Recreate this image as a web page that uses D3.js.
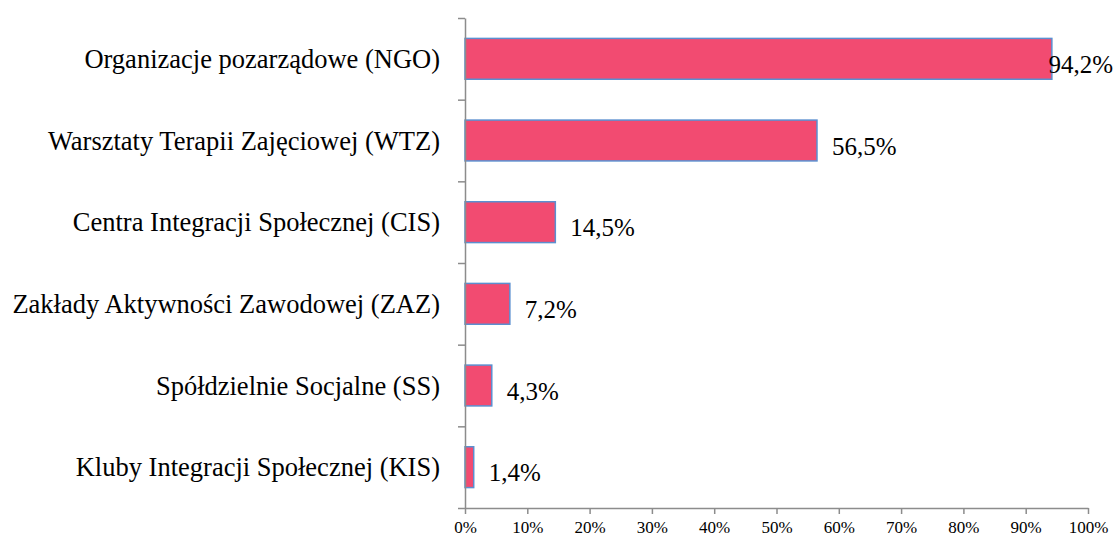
<!DOCTYPE html>
<html>
<head>
<meta charset="utf-8">
<script src="https://cdn.jsdelivr.net/npm/d3@7"></script>
<style>
  html, body { margin: 0; padding: 0; background: #fff; }
  svg { display: block; }
</style>
</head>
<body>
<svg id="chart" width="1118" height="535"></svg>
<script>
const categories = [
  "Organizacje pozarządowe (NGO)",
  "Warsztaty Terapii Zajęciowej (WTZ)",
  "Centra Integracji Społecznej (CIS)",
  "Zakłady Aktywności Zawodowej (ZAZ)",
  "Spółdzielnie Socjalne (SS)",
  "Kluby Integracji Społecznej (KIS)"
];
const values = [0.942, 0.565, 0.145, 0.072, 0.043, 0.014];
const valueLabels = ["94,2%", "56,5%", "14,5%", "7,2%", "4,3%", "1,4%"];
const xTicks = [0, 0.1, 0.2, 0.3, 0.4, 0.5, 0.6, 0.7, 0.8, 0.9, 1.0];
const xTickLabels = ["0%", "10%", "20%", "30%", "40%", "50%", "60%", "70%", "80%", "90%", "100%"];

const W = 1118, H = 535;
const mLeft = 465, mRight = 1088, mTop = 18, mBottom = 508;
const font = "'Liberation Serif', 'Times New Roman', serif";
const axisColor = "#8c8c8c";

const svg = d3.select("#chart");

const x = d3.scaleLinear().domain([0, 1]).range([mLeft, mRight]);
const y = d3.scaleBand().domain(categories).range([mTop, mBottom]).paddingInner(0.5).paddingOuter(0.25);
const yb = d3.scaleLinear().domain([0, categories.length]).range([mTop, mBottom]);

// bars
svg.append("g").selectAll("rect").data(values).join("rect")
  .attr("x", x(0))
  .attr("y", (d, i) => y(categories[i]))
  .attr("width", d => x(d) - x(0))
  .attr("height", y.bandwidth())
  .attr("fill", "#f24b71")
  .attr("stroke", "#5b8fd0")
  .attr("stroke-width", 1.5);

// y axis (boundary ticks)
const gy = svg.append("g").attr("transform", `translate(${mLeft},0)`)
  .call(d3.axisLeft(yb).tickValues(d3.range(categories.length + 1)).tickFormat("").tickSize(7).tickSizeOuter(0));
gy.select(".domain").attr("stroke", axisColor).attr("stroke-width", 1.5);
gy.selectAll(".tick line").attr("stroke", axisColor).attr("stroke-width", 1.5);

// category labels
svg.append("g").selectAll("text").data(categories).join("text")
  .attr("x", 440)
  .attr("y", d => y(d) + y.bandwidth() / 2 + 9)
  .attr("text-anchor", "end")
  .attr("font-family", font)
  .attr("font-size", 26.5)
  .attr("fill", "#000")
  .text(d => d);

// x axis
const gx = svg.append("g").attr("transform", `translate(0,${mBottom})`)
  .call(d3.axisBottom(x).tickValues(xTicks).tickFormat((d, i) => xTickLabels[i]).tickSize(6).tickSizeOuter(0).tickPadding(7));
gx.select(".domain").attr("stroke", axisColor).attr("stroke-width", 1.5);
gx.selectAll(".tick line").attr("stroke", axisColor).attr("stroke-width", 1.5);
gx.selectAll(".tick text").attr("font-family", font).attr("font-size", 17).attr("fill", "#000");

// value labels
const vl = svg.append("g").selectAll("text").data(values).join("text")
  .attr("y", (d, i) => y(categories[i]) + y.bandwidth() / 2 + 14)
  .attr("font-family", font)
  .attr("font-size", 25)
  .attr("fill", "#000")
  .text((d, i) => valueLabels[i]);
vl.each(function(d) {
  const w = this.getComputedTextLength();
  const px = Math.min(x(d) + 15, W - 5 - w);
  d3.select(this).attr("x", px);
});
</script>
</body>
</html>
